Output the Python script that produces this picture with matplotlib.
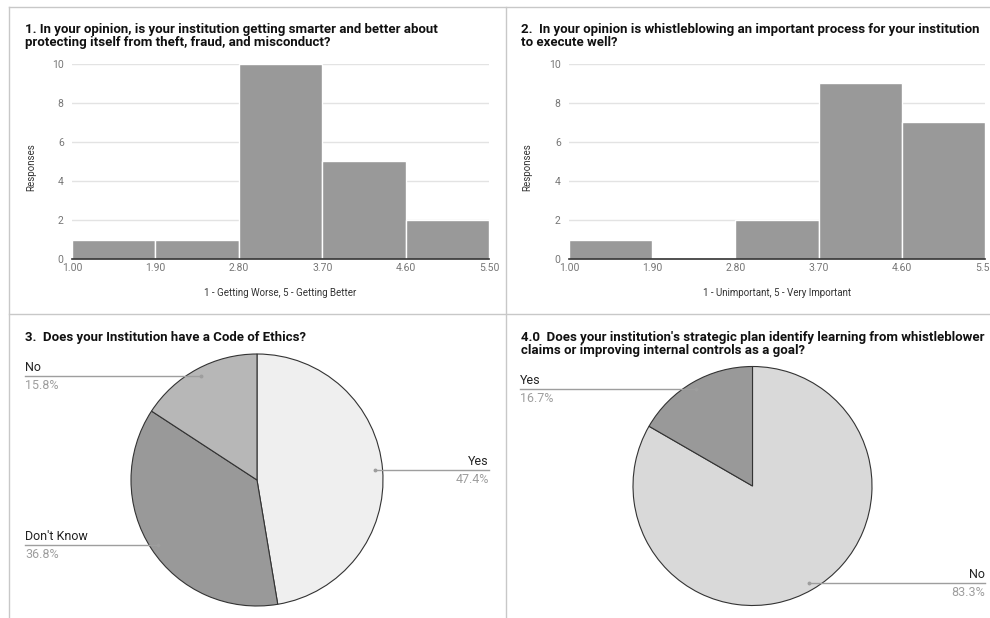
import matplotlib
matplotlib.use("Agg")
import matplotlib.pyplot as plt
import numpy as np

plt.rcParams["font.family"] = ["Roboto", "DejaVu Sans"]

W, H = 990, 618

# survey histograms: bin edges and counts per bin
bin_edges = [1.00, 1.90, 2.80, 3.70, 4.60, 5.50]
q1_counts = [1, 1, 10, 5, 2]
q2_counts = [1, 0, 2, 9, 7]

q1_title = ("1. In your opinion, is your institution getting smarter and better about\n"
            "protecting itself from theft, fraud, and misconduct?")
q2_title = ("2.  In your opinion is whistleblowing an important process for your institution\n"
            "to execute well?")
q1_xlabel = "1 - Getting Worse, 5 - Getting Better"
q2_xlabel = "1 - Unimportant, 5 - Very Important"

# pie charts
q3_title = "3.  Does your Institution have a Code of Ethics?"
q3_labels = ["Yes", "Don't Know", "No"]
q3_values = [9, 7, 3]
q3_colors = ["#efefef", "#999999", "#b7b7b7"]

q4_title = ("4.0  Does your institution's strategic plan identify learning from whistleblower\n"
            "claims or improving internal controls as a goal?")
q4_labels = ["No", "Yes"]
q4_values = [15, 3]
q4_colors = ["#d9d9d9", "#999999"]

TITLE_SIZE = 9.5
LABEL_SIZE = 9

fig = plt.figure(figsize=(W / 100, H / 100), dpi=100)
fig.patch.set_facecolor("white")


def px_axes(x0, y0, x1, y1):
    return fig.add_axes([x0 / W, 1 - y1 / H, (x1 - x0) / W, (y1 - y0) / H])


def histogram(x0, x1, counts, title, xlabel, tx):
    ax = px_axes(x0, 64, x1, 259)
    ax.bar(bin_edges[:-1], counts, width=np.diff(bin_edges), align="edge",
           color="#999999", edgecolor="white", linewidth=1.0, zorder=3)
    ax.set_xlim(bin_edges[0], bin_edges[-1])
    ax.set_ylim(0, 10)
    ax.set_xticks(bin_edges)
    ax.set_xticklabels([f"{v:.2f}" for v in bin_edges])
    ax.set_yticks([0, 2, 4, 6, 8, 10])
    ax.grid(axis="y", color="#e3e3e3", linewidth=1, zorder=0)
    for s in ["top", "right", "left"]:
        ax.spines[s].set_visible(False)
    ax.spines["bottom"].set_color("#333333")
    ax.spines["bottom"].set_linewidth(1.2)
    ax.spines["bottom"].set_zorder(4)
    ax.tick_params(axis="x", length=0, labelsize=7.5, labelcolor="#777777", pad=3)
    ax.tick_params(axis="y", length=0, labelsize=7.5, labelcolor="#777777", pad=6)
    ax.set_facecolor("none")
    fig.text(tx / W, 1 - 23.5 / H, title, fontsize=TITLE_SIZE, fontweight="bold",
             color="#111111", va="top", ha="left", linespacing=0.92)
    fig.text((x0 + x1) / 2 / W, 1 - 293 / H, xlabel, fontsize=7,
             color="#333333", ha="center", va="center")
    fig.text((tx + 6) / W, 1 - 167 / H, "Responses", fontsize=7,
             color="#333333", rotation=90, ha="center", va="center")
    return ax


histogram(72, 489, q1_counts, q1_title, q1_xlabel, 25)
histogram(569, 985, q2_counts, q2_title, q2_xlabel, 521)

# overlay axes in pixel coordinates for the pies and panel borders
ov = fig.add_axes([0, 0, 1, 1])
ov.set_xlim(0, W)
ov.set_ylim(0, H)
ov.axis("off")

border = "#c8c8c8"
ov.plot([9, 9], [0, H - 7], color=border, lw=1)
ov.plot([9, W], [H - 7, H - 7], color=border, lw=1)
ov.plot([505.5, 505.5], [0, H - 7], color=border, lw=1)
ov.plot([9, W], [H - 313.5, H - 313.5], color=border, lw=1)


def pie(cx, cy, r, values, labels, colors, title, title_x, title_y, left_x, right_x):
    wedges, _ = ov.pie(values, colors=colors, startangle=90, counterclock=False,
                       center=(cx, H - cy), radius=r, frame=True,
                       wedgeprops=dict(edgecolor="#333333", linewidth=0.8))
    ov.set_xlim(0, W)
    ov.set_ylim(0, H)
    ov.axis("off")
    total = sum(values)
    for w, lab, v in zip(wedges, labels, values):
        mid = np.deg2rad((w.theta1 + w.theta2) / 2)
        px = cx + 0.94 * r * np.cos(mid)
        py = H - cy + 0.94 * r * np.sin(mid)
        if px > cx:
            ex, ha = right_x, "right"
        else:
            ex, ha = left_x, "left"
        ov.plot([px, ex], [py, py], color="#9e9e9e", lw=1, zorder=5)
        ov.plot([px], [py], marker="o", ms=1.8, color="#9e9e9e", zorder=5)
        ov.text(ex, py + 2, lab, fontsize=LABEL_SIZE, color="#222222", ha=ha, va="bottom")
        ov.text(ex, py - 3, f"{100 * v / total:.1f}%", fontsize=LABEL_SIZE,
                color="#9e9e9e", ha=ha, va="top")
    fig.text(title_x / W, 1 - title_y / H, title, fontsize=TITLE_SIZE, fontweight="bold",
             color="#111111", va="top", ha="left", linespacing=0.92)


pie(257, 480, 126, q3_values, q3_labels, q3_colors, q3_title, 25, 331.5, 25, 489)
pie(752.5, 486, 119.5, q4_values, q4_labels, q4_colors, q4_title, 521, 331.5, 520, 985)

fig.savefig("out.png", dpi=100, facecolor="white")
